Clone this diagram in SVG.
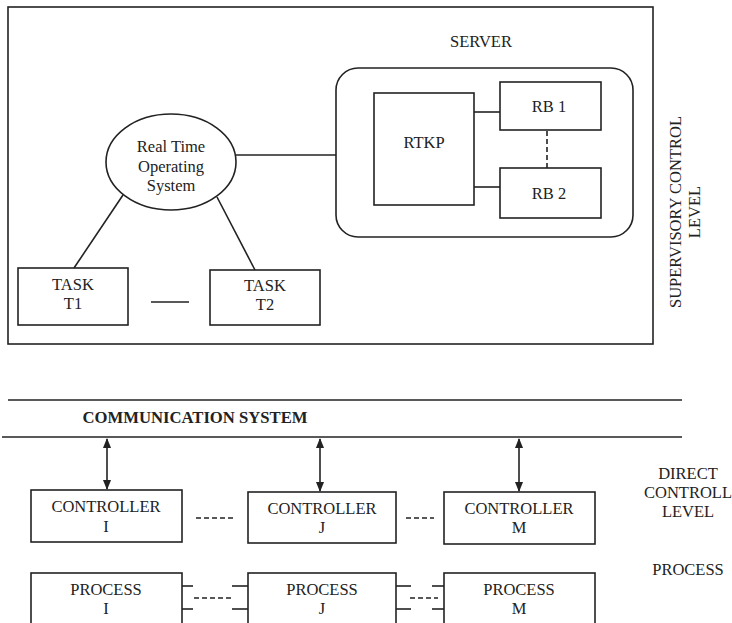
<svg xmlns="http://www.w3.org/2000/svg" width="732" height="623" viewBox="0 0 732 623">
<style>
.b{fill:#fff;stroke:#222;stroke-width:1.6}
.l{fill:none;stroke:#222;stroke-width:1.6}
.d{fill:none;stroke:#222;stroke-width:1.6;stroke-dasharray:5,3}
text{font-family:'Liberation Serif','Times New Roman','DejaVu Serif',serif;font-size:16.5px;fill:#222;text-anchor:middle;dominant-baseline:central}
.bold{font-weight:bold}
</style>
<defs>
<marker id="ah" viewBox="0 0 10 10" refX="9" refY="5" markerWidth="10" markerHeight="9" orient="auto-start-reverse" markerUnits="userSpaceOnUse" preserveAspectRatio="none">
<path d="M0,0.5 L10,5 L0,9.5 z" fill="#222"/>
</marker>
</defs>
<rect width="732" height="623" fill="#fff"/>

<g id="supervisory-frame">
<rect class="b" x="8" y="7" width="645" height="337" fill="none"/>
<text x="675" y="212" transform="rotate(-90 675 212)">SUPERVISORY CONTROL</text>
<text x="694" y="212" transform="rotate(-90 694 212)">LEVEL</text>
</g>

<g id="server">
<text x="481" y="41">SERVER</text>
<rect class="b" x="336" y="68" width="297" height="169" rx="22"/>
</g>

<g id="connectors">
<line class="l" x1="236" y1="155" x2="336" y2="155"/>
<line class="l" x1="123" y1="195" x2="74" y2="268"/>
<line class="l" x1="217" y1="197" x2="255" y2="270"/>
<line class="l" x1="151" y1="302" x2="189" y2="302"/>
<line class="l" x1="474" y1="112" x2="500" y2="112"/>
<line class="l" x1="474" y1="187" x2="500" y2="187"/>
<line class="d" x1="547" y1="131" x2="547" y2="168"/>
<line class="l" x1="107" y1="439" x2="107" y2="489" marker-start="url(#ah)" marker-end="url(#ah)"/>
<line class="l" x1="320" y1="439" x2="320" y2="491" marker-start="url(#ah)" marker-end="url(#ah)"/>
<line class="l" x1="519" y1="439" x2="519" y2="491" marker-start="url(#ah)" marker-end="url(#ah)"/>
<line class="d" x1="196" y1="518" x2="234" y2="518"/>
<line class="d" x1="406" y1="518" x2="434" y2="518"/>
<line class="l" x1="182" y1="586" x2="193" y2="586"/>
<line class="l" x1="182" y1="609" x2="193" y2="609"/>
<line class="l" x1="232" y1="586" x2="248" y2="586"/>
<line class="l" x1="232" y1="609" x2="248" y2="609"/>
<line class="d" x1="194" y1="598" x2="232" y2="598"/>
<line class="l" x1="396" y1="586" x2="411" y2="586"/>
<line class="l" x1="396" y1="609" x2="411" y2="609"/>
<line class="l" x1="432" y1="586" x2="444" y2="586"/>
<line class="l" x1="432" y1="609" x2="444" y2="609"/>
<line class="d" x1="410" y1="598" x2="438" y2="598"/>
</g>

<g id="rtkp">
<rect class="b" x="374" y="93" width="100" height="112"/>
<text x="424" y="142">RTKP</text>
</g>
<g id="rb1">
<rect class="b" x="500" y="82" width="101" height="48"/>
<text x="549" y="106">RB 1</text>
</g>
<g id="rb2">
<rect class="b" x="500" y="168" width="101" height="50"/>
<text x="549" y="193">RB 2</text>
</g>
<g id="rtos">
<ellipse class="b" cx="171" cy="162" rx="65" ry="48"/>
<text x="171" y="146">Real Time</text>
<text x="171" y="166">Operating</text>
<text x="171" y="185">System</text>
</g>
<g id="task-t1">
<rect class="b" x="18" y="268" width="110" height="57"/>
<text x="73" y="284">TASK</text>
<text x="73" y="303">T1</text>
</g>
<g id="task-t2">
<rect class="b" x="210" y="270" width="110" height="55"/>
<text x="265" y="285">TASK</text>
<text x="265" y="304">T2</text>
</g>

<g id="communication-system">
<line class="l" x1="8" y1="400" x2="682" y2="400"/>
<line class="l" x1="2" y1="437" x2="682" y2="437"/>
<text class="bold" x="195" y="417" textLength="225" lengthAdjust="spacingAndGlyphs">COMMUNICATION SYSTEM</text>
</g>

<g id="controller-i">
<rect class="b" x="31" y="490" width="151" height="52"/>
<text x="106" y="506">CONTROLLER</text>
<text x="106" y="526">I</text>
</g>
<g id="controller-j">
<rect class="b" x="248" y="492" width="148" height="51"/>
<text x="322" y="508">CONTROLLER</text>
<text x="322" y="527">J</text>
</g>
<g id="controller-m">
<rect class="b" x="444" y="492" width="151" height="52"/>
<text x="519" y="508">CONTROLLER</text>
<text x="519" y="527">M</text>
</g>

<g id="process-i">
<rect class="b" x="31" y="573" width="151" height="60"/>
<text x="106" y="589">PROCESS</text>
<text x="106" y="608">I</text>
</g>
<g id="process-j">
<rect class="b" x="248" y="573" width="148" height="60"/>
<text x="322" y="589">PROCESS</text>
<text x="322" y="608">J</text>
</g>
<g id="process-m">
<rect class="b" x="444" y="573" width="151" height="60"/>
<text x="519" y="589">PROCESS</text>
<text x="519" y="608">M</text>
</g>

<g id="level-labels">
<text x="688" y="473">DIRECT</text>
<text x="688" y="492">CONTROLL</text>
<text x="688" y="511">LEVEL</text>
<text x="688" y="569">PROCESS</text>
</g>
</svg>
